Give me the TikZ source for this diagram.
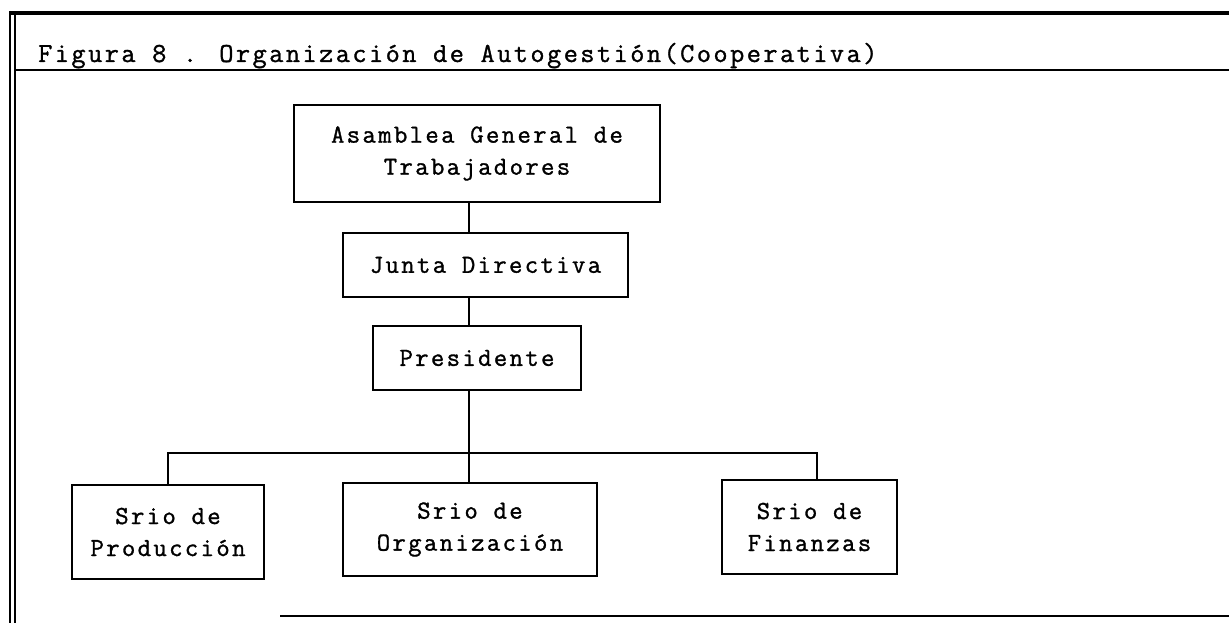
\documentclass[tikz,border=0pt]{standalone}
\usepackage{fontspec}
\newfontfamily\scanmono{Latin Modern Mono}[LetterSpace=9,FakeBold=1.2]
\newcommand{\boxfont}{\scanmono\fontsize{26}{32}\selectfont}
\newcommand{\titlefont}{\scanmono\fontsize{27.5}{32}\selectfont}
\begin{document}
\begin{tikzpicture}[x=1pt,y=-1pt,
  box/.style={draw=black,line width=1.8pt,inner sep=0pt,align=center,font=\boxfont},
  link/.style={draw=black,line width=1.6pt},
  frame/.style={draw=black,line width=2pt}]
\useasboundingbox (0,0) rectangle (1229,623);
% frame
\draw[frame,line width=3.5pt] (9,13) -- (1229,13);
\draw[frame,line width=1.6pt] (10,11) -- (10,623);
\draw[frame,line width=1.6pt] (15,13) -- (15,623);
\draw[frame] (15,70) -- (1229,70);
\draw[frame] (280,616) -- (1229,616);
% title
\node[anchor=base west,inner sep=0pt,font=\titlefont] (title) at (38,62)
  {Figura 8 . Organización de Autogestión(Cooperativa)};
% boxes
\node[box,minimum width=366pt,minimum height=97pt] (asam) at (477,153.5)
  {Asamblea General de\\Trabajadores};
\node[box,minimum width=285pt,minimum height=64pt] (junta) at (485.5,265)
  {Junta Directiva};
\node[box,minimum width=208pt,minimum height=64pt] (pres) at (477,358)
  {Presidente};
\node[box,minimum width=192pt,minimum height=94pt] (prod) at (168,532)
  {Srio de\\Producción};
\node[box,minimum width=254pt,minimum height=93pt] (org) at (470,529.5)
  {Srio de\\Organización};
\node[box,minimum width=175pt,minimum height=94pt] (fin) at (809.5,527)
  {Srio de\\Finanzas};
% connectors
\coordinate (bus) at (469,453);
\coordinate (fdrop) at (817,453);
\draw[link] (asam.south -| bus) -- (junta.north -| bus);
\draw[link] (junta.south -| bus) -- (pres.north -| bus);
\draw[link] (pres.south -| bus) -- (org.north -| bus);
\draw[link] (prod.north) -- (prod.north |- bus) -- (fdrop) -- (fdrop |- fin.north);
\end{tikzpicture}
\end{document}
